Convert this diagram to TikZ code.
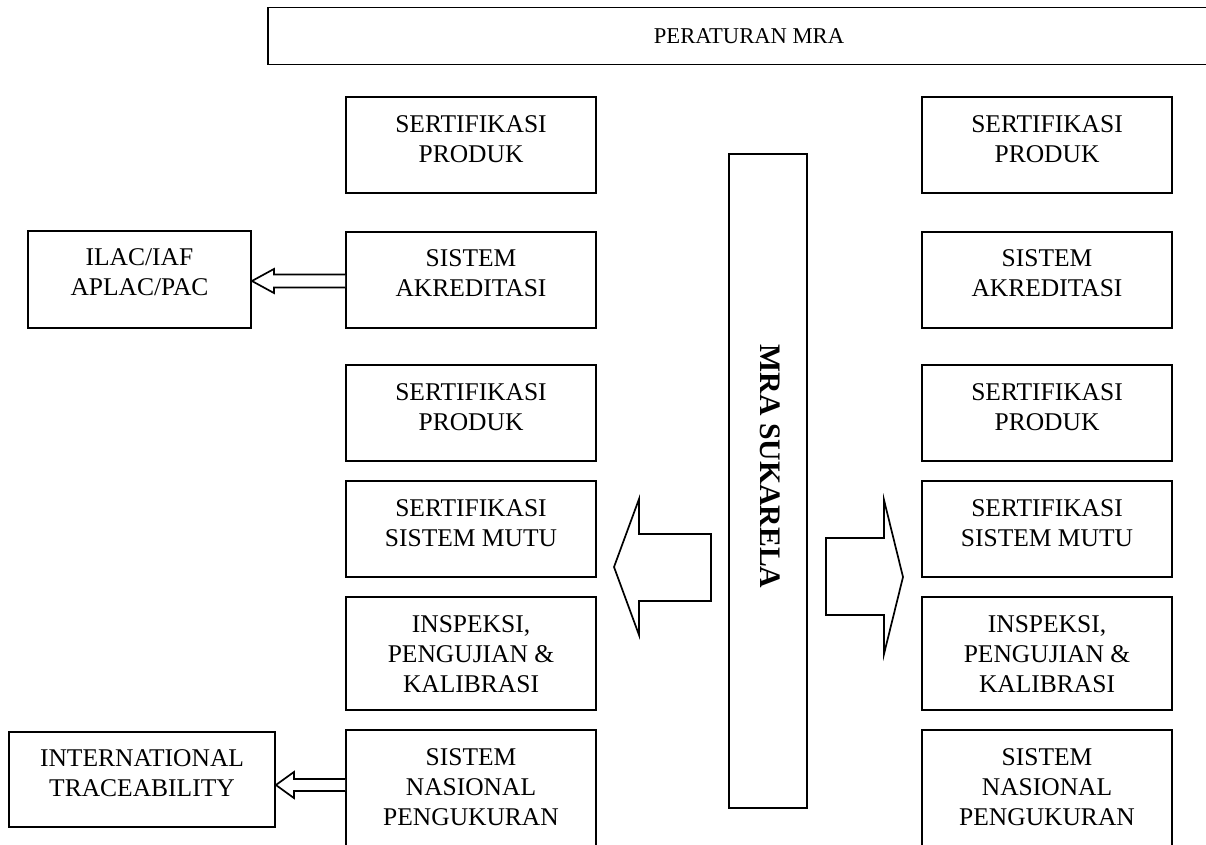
\documentclass[tikz,border=0pt]{standalone}
\usepackage{fontspec}
\setmainfont{Liberation Serif}
\usetikzlibrary{calc}
\begin{document}
\begin{tikzpicture}[x=1pt,y=-1pt,
  box/.style={draw, line width=1.8pt, inner sep=0pt, minimum width=250pt},
  txt/.style={align=center, inner sep=0pt, font=\fontsize{25.5}{30}\selectfont},
  blk/.style={draw, line width=1.7pt, fill=white, line join=miter}]
\useasboundingbox (0,0) rectangle (1206,845);

% top box
\node[box, minimum width=962pt, minimum height=57pt, font=\fontsize{22.6}{27}\selectfont] (top) at (749,36) {PERATURAN MRA};

% left column boxes
\node[box, minimum height=96pt] (l1) at (471,145) {};
\node[box, minimum height=96pt] (l2) at (471,280) {};
\node[box, minimum height=96pt] (l3) at (471,413) {};
\node[box, minimum height=96pt] (l4) at (471,529) {};
\node[box, minimum height=113pt] (l5) at (471,653.5) {};
\node[box, minimum height=140pt] (l6) at (471,800) {};

% right column boxes
\node[box, minimum height=96pt] (r1) at (1047,145) {};
\node[box, minimum height=96pt] (r2) at (1047,280) {};
\node[box, minimum height=96pt] (r3) at (1047,413) {};
\node[box, minimum height=96pt] (r4) at (1047,529) {};
\node[box, minimum height=113pt] (r5) at (1047,653.5) {};
\node[box, minimum height=140pt] (r6) at (1047,800) {};

% texts left
\node[txt] (l1t) at (471,139.6) {SERTIFIKASI\\PRODUK};
\node[txt] (l2t) at (471,273.6) {SISTEM\\AKREDITASI};
\node[txt] (l3t) at (471,407.6) {SERTIFIKASI\\PRODUK};
\node[txt] (l4t) at (471,523.6) {SERTIFIKASI\\SISTEM MUTU};
\node[txt] (l5t) at (471,654.6) {INSPEKSI,\\PENGUJIAN \&\\KALIBRASI};
\node[txt] (l6t) at (471,787.6) {SISTEM\\NASIONAL\\PENGUKURAN};

% texts right
\node[txt] (r1t) at (1047,139.6) {SERTIFIKASI\\PRODUK};
\node[txt] (r2t) at (1047,273.6) {SISTEM\\AKREDITASI};
\node[txt] (r3t) at (1047,407.6) {SERTIFIKASI\\PRODUK};
\node[txt] (r4t) at (1047,523.6) {SERTIFIKASI\\SISTEM MUTU};
\node[txt] (r5t) at (1047,654.6) {INSPEKSI,\\PENGUJIAN \&\\KALIBRASI};
\node[txt] (r6t) at (1047,787.6) {SISTEM\\NASIONAL\\PENGUKURAN};

% outer boxes
\node[box, minimum width=223pt, minimum height=97pt] (ilac) at (139.5,279.5) {};
\node[txt] (ilact) at (139.5,272.5) {ILAC/IAF\\APLAC/PAC};
\node[box, minimum width=266pt, minimum height=95pt] (intl) at (142,779.5) {};
\node[txt] (intlt) at (142,773.5) {INTERNATIONAL\\TRACEABILITY};

% MRA SUKARELA
\node[box, minimum width=78pt, minimum height=654pt] (mra) at (768,481) {};
\node[rotate=-90, inner sep=0pt, font=\bfseries\fontsize{29.75}{34}\selectfont] (mrat) at (770,466.5) {MRA SUKARELA};

% big block arrows
\draw[blk] (614,567) -- (639,499) -- (639,534) -- (711,534) -- (711,601) -- (639,601) -- (639,635) -- cycle;
\draw[blk] (826,538) -- (884,538) -- (884,500) -- (903,577) -- (884,654) -- (884,615) -- (826,615) -- cycle;

% small arrows
\coordinate (t1) at ($(ilac.east)+(0,1.5)$);
\draw[blk] ($(t1 -| l2.west)+(0,-6.5)$) -- ($(t1)+(22,-6.5)$) -- ($(t1)+(22,-12)$) -- (t1)
  -- ($(t1)+(22,12)$) -- ($(t1)+(22,6.5)$) -- ($(t1 -| l2.west)+(0,6.5)$);
\coordinate (t2) at ($(intl.east)+(0,5.5)$);
\draw[blk] ($(t2 -| l6.west)+(0,-6)$) -- ($(t2)+(18,-6)$) -- ($(t2)+(18,-13)$) -- (t2)
  -- ($(t2)+(18,13)$) -- ($(t2)+(18,6)$) -- ($(t2 -| l6.west)+(0,6)$);
\end{tikzpicture}
\end{document}
